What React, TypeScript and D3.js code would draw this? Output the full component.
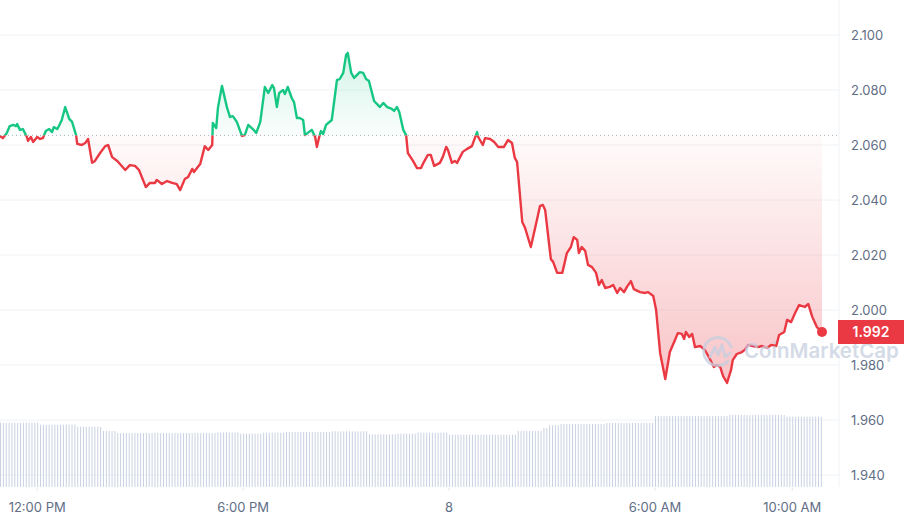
import React from "react";
import * as d3 from "d3";

// ---- data ----
// minutes since the first point (day 7, 10:55 AM)
const minutes = [
  0, 5, 12, 17, 23, 28, 30, 35, 40, 47, 49, 54, 58, 65, 70, 75, 80, 86, 91, 94,
  100, 103, 108, 114, 121, 126, 133, 135, 143, 149, 154, 161, 166, 175, 184, 189, 196, 205, 219, 227,
  236, 243, 255, 262, 271, 274, 283, 292, 301, 309, 315, 323, 329, 336, 339, 350, 358, 364, 371, 372,
  378, 381, 388, 397, 402, 407, 414, 423, 428, 434, 442, 448, 455, 463, 469, 476, 479, 484, 488, 495,
  498, 503, 510, 514, 519, 524, 530, 533, 538, 545, 551, 554, 558, 561, 565, 570, 580, 589, 594, 600,
  605, 608, 614, 619, 629, 635, 640, 645, 654, 661, 664, 670, 677, 685, 689, 694, 698, 705, 710, 713,
  722, 729, 736, 741, 748, 753, 759, 769, 774, 780, 783, 790, 795, 799, 809, 816, 825, 834, 836, 844,
  848, 857, 864, 871, 881, 888, 895, 900, 904, 913, 918, 928, 939, 944, 949, 953, 963, 967, 974, 983,
  991, 998, 1003, 1009, 1012, 1017, 1023, 1028, 1035, 1042, 1047, 1052, 1058, 1066, 1072, 1079, 1084, 1091, 1096, 1103,
  1108, 1119, 1128, 1133, 1142, 1147, 1154, 1163, 1171, 1180, 1185, 1192, 1196, 1199, 1205, 1210, 1215, 1224, 1232, 1241,
  1248, 1253, 1259, 1264, 1271, 1278, 1281, 1288, 1297, 1302, 1308, 1316, 1325, 1332, 1341, 1348, 1357, 1362, 1371, 1376,
  1383, 1390, 1397, 1407, 1413, 1420, 1428, 1437,
];
const prices = [
  2.0633, 2.0625, 2.0644, 2.0669, 2.0673, 2.0669, 2.0676, 2.0655, 2.0658, 2.0629, 2.0615, 2.0629, 2.0611, 2.0629, 2.0622, 2.0625, 2.0651, 2.0658, 2.0647, 2.0665,
  2.0658, 2.0669, 2.0691, 2.0738, 2.0695, 2.0684, 2.0636, 2.0604, 2.06, 2.0607, 2.0622, 2.0535, 2.0542, 2.0571, 2.0596, 2.06, 2.0556, 2.0542, 2.0509, 2.0527,
  2.0524, 2.0509, 2.0447, 2.0462, 2.0462, 2.0473, 2.0458, 2.0469, 2.0462, 2.0458, 2.0436, 2.0476, 2.0484, 2.0513, 2.0502, 2.0531, 2.0596, 2.0582, 2.06, 2.068,
  2.0662, 2.0735, 2.0815, 2.0735, 2.0702, 2.0705, 2.0684, 2.0633, 2.0636, 2.0673, 2.0658, 2.0644, 2.0684, 2.0811, 2.0789, 2.0818, 2.0807, 2.0738, 2.0789, 2.08,
  2.0785, 2.0811, 2.0771, 2.0756, 2.0698, 2.0698, 2.0691, 2.0636, 2.0644, 2.0655, 2.0629, 2.0593, 2.0629, 2.0651, 2.064, 2.0673, 2.0691, 2.0836, 2.084, 2.0862,
  2.0927, 2.0935, 2.0862, 2.0844, 2.0865, 2.0862, 2.084, 2.0833, 2.076, 2.0745, 2.0738, 2.0753, 2.0738, 2.0731, 2.0724, 2.0738, 2.072, 2.0655, 2.0636, 2.0571,
  2.0542, 2.0516, 2.0516, 2.0538, 2.0564, 2.0564, 2.0524, 2.0535, 2.0556, 2.0593, 2.0582, 2.0535, 2.0542, 2.0535, 2.0575, 2.0585, 2.0596, 2.0647, 2.0629, 2.06,
  2.0625, 2.0622, 2.0611, 2.0593, 2.0593, 2.0618, 2.0607, 2.0553, 2.0538, 2.032, 2.0298, 2.0229, 2.0331, 2.0378, 2.0382, 2.0364, 2.0185, 2.0175, 2.0135, 2.0135,
  2.0207, 2.0229, 2.0265, 2.0255, 2.0207, 2.0229, 2.0215, 2.0164, 2.0156, 2.0135, 2.0091, 2.0109, 2.008, 2.0084, 2.0091, 2.0062, 2.008, 2.0065, 2.0084, 2.0105,
  2.0076, 2.0065, 2.0062, 2.0065, 2.0051, 2.0, 1.9844, 1.9749, 1.9847, 1.9891, 1.9916, 1.9913, 1.9895, 1.992, 1.9902, 1.9913, 1.9865, 1.9869, 1.9855, 1.9822,
  1.9793, 1.98, 1.9793, 1.976, 1.9735, 1.9782, 1.9818, 1.984, 1.9847, 1.9855, 1.9873, 1.9869, 1.9865, 1.9869, 1.9862, 1.9873, 1.9869, 1.9909, 1.992, 1.9964,
  1.9956, 1.9989, 2.0018, 2.0011, 2.0022, 1.9975, 1.9938, 1.992,
];
const openPrice = 2.0635;
const lastPriceLabel = "1.992";

// 5-minute volume bars (relative units)
const volumes = [
  643, 643, 643, 643, 643, 643, 643, 643, 643, 643, 643, 643, 643, 643,
  623, 623, 623, 623, 623, 623, 623, 623, 623, 623, 623, 623, 623,
  603, 603, 603, 603, 603, 603, 603, 603, 603,
  560, 560, 560, 560, 560,
  540, 540, 540, 540, 540, 540, 540, 540, 540, 540, 540, 540,
  540, 540, 540, 540, 540, 540, 540, 540, 540, 540, 540, 540,
  540, 540, 540, 540, 540, 540, 540, 540, 540, 540, 540,
  545, 545, 545, 545, 545, 545, 545, 545,
  533, 533, 533, 533, 533, 533, 533, 533,
  543, 543, 543, 543, 543, 543, 543, 543,
  550, 550, 550, 550, 550, 550, 550, 550, 550, 550, 550, 550, 550, 550, 550, 550,
  557, 557, 557, 557, 557, 557, 557, 557, 557, 557, 557, 557, 557,
  527, 527, 527, 527, 527, 527, 527, 527, 527, 527,
  533, 533, 533, 533, 533, 533, 533,
  543, 543, 543, 543, 543, 543, 543, 543, 543, 543, 543,
  523, 523, 523, 523, 523, 523, 523, 523, 523, 523, 523, 523,
  523, 523, 523, 523, 523, 523, 523, 523, 523, 523, 523, 523,
  560, 560, 560, 560, 560, 560, 560, 560, 560,
  590, 590,
  617, 617, 617, 617,
  630, 630, 630, 630, 630, 630, 630, 630, 630, 630, 630, 630, 630, 630, 630, 630,
  640, 640, 640, 640, 640, 640, 640, 640, 640, 640, 640, 640, 640, 640, 640, 640, 640,
  710, 710, 710, 710, 710, 710, 710, 710, 710, 710, 710, 710, 710,
  710, 710, 710, 710, 710, 710, 710, 710, 710, 710, 710, 710, 710,
  720, 720, 720, 720, 720, 720, 720, 720, 720, 720,
  720, 720, 720, 720, 720, 720, 720, 720, 720, 720,
  703, 703, 703, 703, 703, 703, 703, 703, 703, 703, 703, 703, 703,
];

const yTicks = [1.94, 1.96, 1.98, 2.0, 2.02, 2.04, 2.06, 2.08, 2.1];
const xTickDates = [
  new Date(2024, 0, 7, 12, 0),
  new Date(2024, 0, 7, 18, 0),
  new Date(2024, 0, 8, 0, 0),
  new Date(2024, 0, 8, 6, 0),
  new Date(2024, 0, 8, 10, 0),
];
const xTickLabels = ["12:00 PM", "6:00 PM", "8", "6:00 AM", "10:00 AM"];

const startTime = new Date(2024, 0, 7, 10, 55);
const endTime = new Date(2024, 0, 8, 10, 52);

const GREEN = "#16c784";
const RED = "#ea3943";
const FONT = "Inter, 'Noto Sans', sans-serif";

export default function App() {
  const W = 904;
  const H = 522;
  const plotRight = 839;
  const volBase = 487;

  const x = d3.scaleTime().domain([startTime, endTime]).range([0, 822]);
  const y = d3.scaleLinear().domain([1.94, 2.1]).range([475, 35]);
  const vy = d3.scaleLinear().domain([0, 1000]).range([volBase, volBase - 100]);

  const pts = minutes.map((m, i) => ({
    t: new Date(+startTime + m * 60000),
    p: prices[i],
  }));
  const baseY = y(openPrice);

  const line = d3
    .line<{ t: Date; p: number }>()
    .x((d) => x(d.t))
    .y((d) => y(d.p));
  const area = d3
    .area<{ t: Date; p: number }>()
    .x((d) => x(d.t))
    .y0(baseY)
    .y1((d) => y(d.p));

  const linePath = line(pts) || "";
  const areaPath = area(pts) || "";
  const last = pts[pts.length - 1];
  const fmt = d3.format(".3f");

  return (
    <div style={{ position: "fixed", left: 0, top: 0 }}>
      <svg width={W} height={H} style={{ display: "block", background: "#fff" }}>
        <defs>
          <clipPath id="clipUp">
            <rect x={0} y={0} width={W} height={baseY} />
          </clipPath>
          <clipPath id="clipDown">
            <rect x={0} y={baseY} width={W} height={H - baseY} />
          </clipPath>
          <linearGradient id="gUp" gradientUnits="userSpaceOnUse" x1={0} y1={50} x2={0} y2={baseY}>
            <stop offset="0" stopColor={GREEN} stopOpacity={0.2} />
            <stop offset="1" stopColor={GREEN} stopOpacity={0.02} />
          </linearGradient>
          <linearGradient id="gDown" gradientUnits="userSpaceOnUse" x1={0} y1={baseY} x2={0} y2={385}>
            <stop offset="0" stopColor={RED} stopOpacity={0.02} />
            <stop offset="1" stopColor={RED} stopOpacity={0.3} />
          </linearGradient>
        </defs>

        {/* grid */}
        {yTicks.map((v) => (
          <line key={v} x1={0} x2={plotRight} y1={y(v)} y2={y(v)} stroke="#f0f2f5" strokeWidth={1} />
        ))}
        <line x1={plotRight} x2={plotRight} y1={0} y2={volBase} stroke="#f0f2f5" strokeWidth={1} />

        {/* volume bars */}
        {volumes.map((v, i) => {
          const bx = x(new Date(+startTime + i * 5 * 60000));
          return (
            <rect key={i} x={bx} y={vy(v)} width={1} height={volBase - vy(v)} fill="#c9d1e2" />
          );
        })}

        {/* x ticks */}
        {xTickDates.map((d, i) => (
          <g key={i}>
            <line x1={x(d)} x2={x(d)} y1={volBase + 1} y2={volBase + 4} stroke="#e3e7ee" />
            <text
              x={x(d)}
              y={512}
              textAnchor="middle"
              fontFamily={FONT}
              fontSize={13}
              fill="#616e85"
            >
              {xTickLabels[i]}
            </text>
          </g>
        ))}

        {/* y labels */}
        {yTicks.map((v) => (
          <text key={v} x={851} y={y(v) + 5} fontFamily={FONT} fontSize={13} fill="#616e85">
            {fmt(v)}
          </text>
        ))}

        {/* areas */}
        <path d={areaPath} fill="url(#gUp)" clipPath="url(#clipUp)" />
        <path d={areaPath} fill="url(#gDown)" clipPath="url(#clipDown)" />

        {/* baseline */}
        <line
          x1={0}
          x2={plotRight}
          y1={baseY}
          y2={baseY}
          stroke="#a6b0c3"
          strokeWidth={1}
          strokeDasharray="1,3"
        />

        {/* lines */}
        <path d={linePath} fill="none" stroke={GREEN} strokeWidth={2.4} strokeLinejoin="round" clipPath="url(#clipUp)" />
        <path d={linePath} fill="none" stroke={RED} strokeWidth={2.4} strokeLinejoin="round" clipPath="url(#clipDown)" />

        {/* watermark */}
        <g opacity={0.75}>
          <g transform="translate(718,351)" fill="none" stroke="#c6cfe0" strokeWidth={3} strokeLinecap="round" strokeLinejoin="round">
            <path d="M 10 10 A 14 14 0 1 1 13 -4" />
            <path d="M -8 6 L -3 -4 L 0 4 L 4 -6 L 7 6 L 12 2" />
          </g>
          <text x={744} y={358} fontFamily={FONT} fontSize={20.5} fontWeight={600} fill="#c6cfe0">
            CoinMarketCap
          </text>
        </g>

        {/* last price */}
        <circle cx={x(last.t)} cy={y(last.p)} r={5} fill={RED} />
        <rect x={838} y={y(last.p) - 12} width={70} height={24} fill={RED} />
        <text
          x={871}
          y={y(last.p) + 5}
          textAnchor="middle"
          fontFamily={FONT}
          fontSize={14}
          fontWeight={600}
          fill="#fff"
        >
          {lastPriceLabel}
        </text>
      </svg>
    </div>
  );
}
